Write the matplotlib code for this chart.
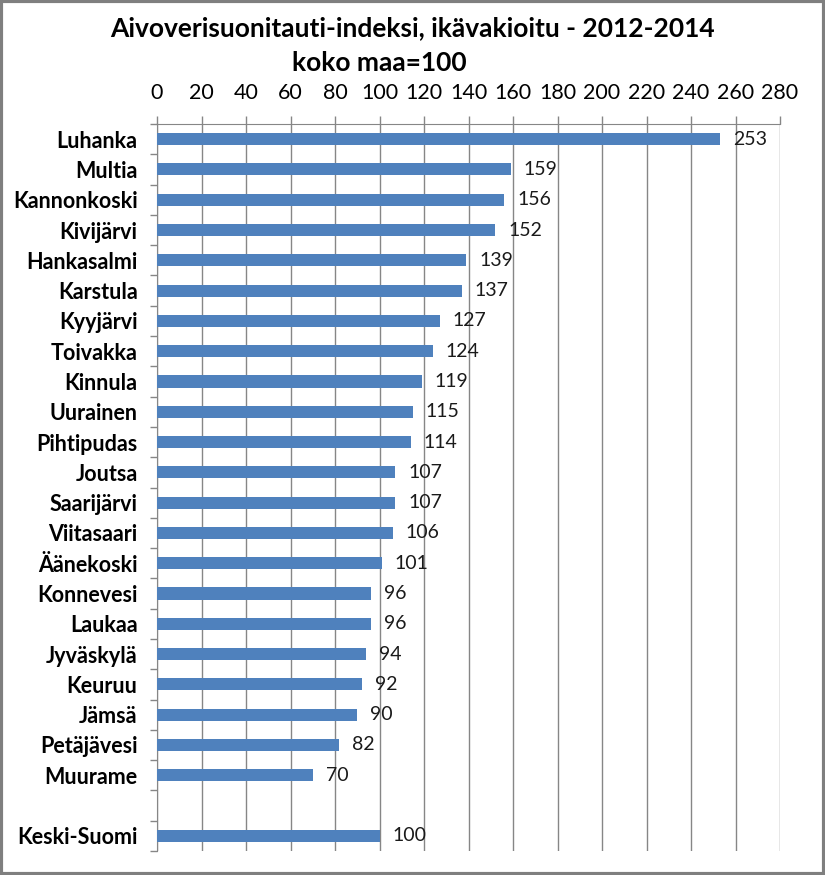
import numpy as np
import matplotlib
matplotlib.use('Agg')
import matplotlib.pyplot as plt
from matplotlib.patches import Rectangle

# data, top to bottom (empty slot between Muurame and Keski-Suomi)
kunnat = ['Luhanka', 'Multia', 'Kannonkoski', 'Kivijärvi', 'Hankasalmi', 'Karstula',
          'Kyyjärvi', 'Toivakka', 'Kinnula', 'Uurainen', 'Pihtipudas', 'Joutsa',
          'Saarijärvi', 'Viitasaari', 'Äänekoski', 'Konnevesi', 'Laukaa', 'Jyväskylä',
          'Keuruu', 'Jämsä', 'Petäjävesi', 'Muurame', '', 'Keski-Suomi']
indeksi = [253, 159, 156, 152, 139, 137, 127, 124, 119, 115, 114, 107,
           107, 106, 101, 96, 96, 94, 92, 90, 82, 70, None, 100]
x_ticks = list(range(0, 281, 20))

plt.rcParams['font.family'] = ['Lato', 'DejaVu Sans']

fig = plt.figure(figsize=(8.25, 8.75), dpi=100)
ax = fig.add_axes([0.1903, 0.0274, 0.7552, 0.8309])

n = len(kunnat)
pos = np.arange(n)
vals = [v if v is not None else 0 for v in indeksi]
bars = ax.barh(pos, vals, height=0.4, color='#4F81BD', zorder=3)
for p, v in zip(pos, indeksi):
    if v is None:
        continue
    ax.annotate(str(v), (v, p), xytext=(13, 0), textcoords='offset pixels',
                ha='left', va='center', fontsize=14, color='#1a1a1a')

ax.set_ylim(n - 0.5, -0.5)
ax.set_xlim(0, 280)
ax.xaxis.tick_top()
ax.set_xticks(x_ticks)
ax.tick_params(axis='x', length=6, width=1, color='#868686', labelsize=15.5, pad=9)
ax.grid(axis='x', color='#868686', linewidth=1, zorder=0)

# category ticks at the slot edges, labels at centres
ax.set_yticks(np.arange(-0.5, n, 1))
ax.set_yticklabels([])
ax.set_yticks(pos, minor=True)
ax.set_yticklabels(kunnat, minor=True, fontweight='bold', fontsize=15.5)
ax.tick_params(axis='y', which='major', length=5, width=1, color='#868686')
ax.tick_params(axis='y', which='minor', length=0, pad=14)

for s in ['bottom', 'right']:
    ax.spines[s].set_visible(False)
ax.spines['top'].set_color('#868686')
ax.spines['left'].set_color('#868686')

fig.text(0.5, 0.968, 'Aivoverisuonitauti-indeksi, ikävakioitu - 2012-2014',
         ha='center', va='center', fontsize=19, fontweight='bold')
fig.text(0.46, 0.928, 'koko maa=100', ha='center', va='center',
         fontsize=19, fontweight='bold')

fig.patches.append(Rectangle((0.0015, 0.0015), 0.997, 0.997, transform=fig.transFigure,
                             fill=False, edgecolor='#7f7f7f', linewidth=3))

fig.savefig('out.png', dpi=100)
